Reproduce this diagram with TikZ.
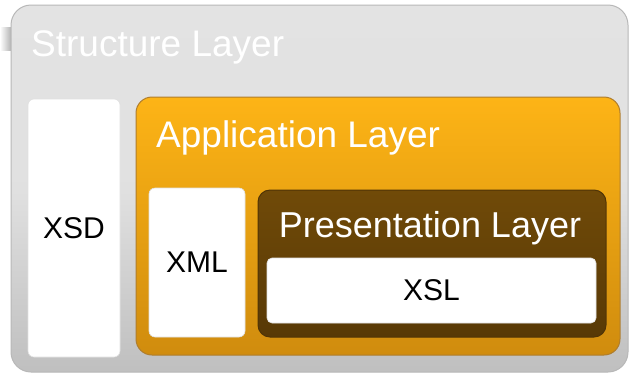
\documentclass[tikz,border=0pt]{standalone}
\usepackage{fontspec}
\setmainfont{Liberation Sans}
\definecolor{orangetop}{RGB}{253,180,22}
\definecolor{orangemid}{RGB}{250,172,20}
\definecolor{orangebot}{RGB}{208,140,14}
\definecolor{orangeedge}{RGB}{175,125,45}
\definecolor{browntop}{RGB}{112,74,8}
\definecolor{brownbot}{RGB}{88,57,6}
\definecolor{brownedge}{RGB}{80,52,6}
\begin{document}
\begin{tikzpicture}[x=1pt,y=-1pt,
  layerbox/.style={rounded corners=#1, inner sep=0pt, outer sep=0pt},
  whitebox/.style={draw=white!88!black, line width=0.6pt, fill=white, rounded corners=6pt, inner sep=0pt, outer sep=0pt, font=\fontsize{30}{35}\selectfont, text=black},
  titletext/.style={anchor=base west, inner sep=0pt, font=\fontsize{37}{44}\selectfont}
]
\useasboundingbox (0,0) rectangle (631,373);
\fill[white] (0,0) rectangle (631,373);
% soft shadow on left
\shade[left color=white, right color=black!35] (0,27) rectangle (13,50);
% structure layer
\node[layerbox=20pt, minimum width=617pt, minimum height=367pt, top color=black!11, bottom color=black!25, middle color=black!12, draw=black!28, line width=1pt] (struct) at (319.5,188.5) {};
\node[titletext, text=white] (structtitle) at (31,56) {Structure Layer};
% XSD
\node[whitebox, minimum width=92pt, minimum height=258pt] (xsd) at (74,228) {XSD};
% application layer
\node[layerbox=16pt, minimum width=484pt, minimum height=258pt, top color=orangetop, middle color=orangemid, bottom color=orangebot, draw=orangeedge, line width=1pt] (app) at (378,226) {};
\node[titletext, text=white] (apptitle) at (156,147) {Application Layer};
% XML
\node[whitebox, minimum width=96pt, minimum height=149pt] (xml) at (197,262.5) {XML};
% presentation layer
\node[layerbox=12pt, minimum width=348pt, minimum height=147pt, top color=browntop, bottom color=brownbot, draw=brownedge, line width=1pt] (pres) at (432,263.5) {};
\node[anchor=base, inner sep=0pt, font=\fontsize{36}{43}\selectfont, text=white] (prestitle) at (430,237) {Presentation Layer};
% XSL
\node[whitebox, rounded corners=5pt, minimum width=329pt, minimum height=65pt] (xsl) at (431.5,290.5) {XSL};
\end{tikzpicture}
\end{document}
